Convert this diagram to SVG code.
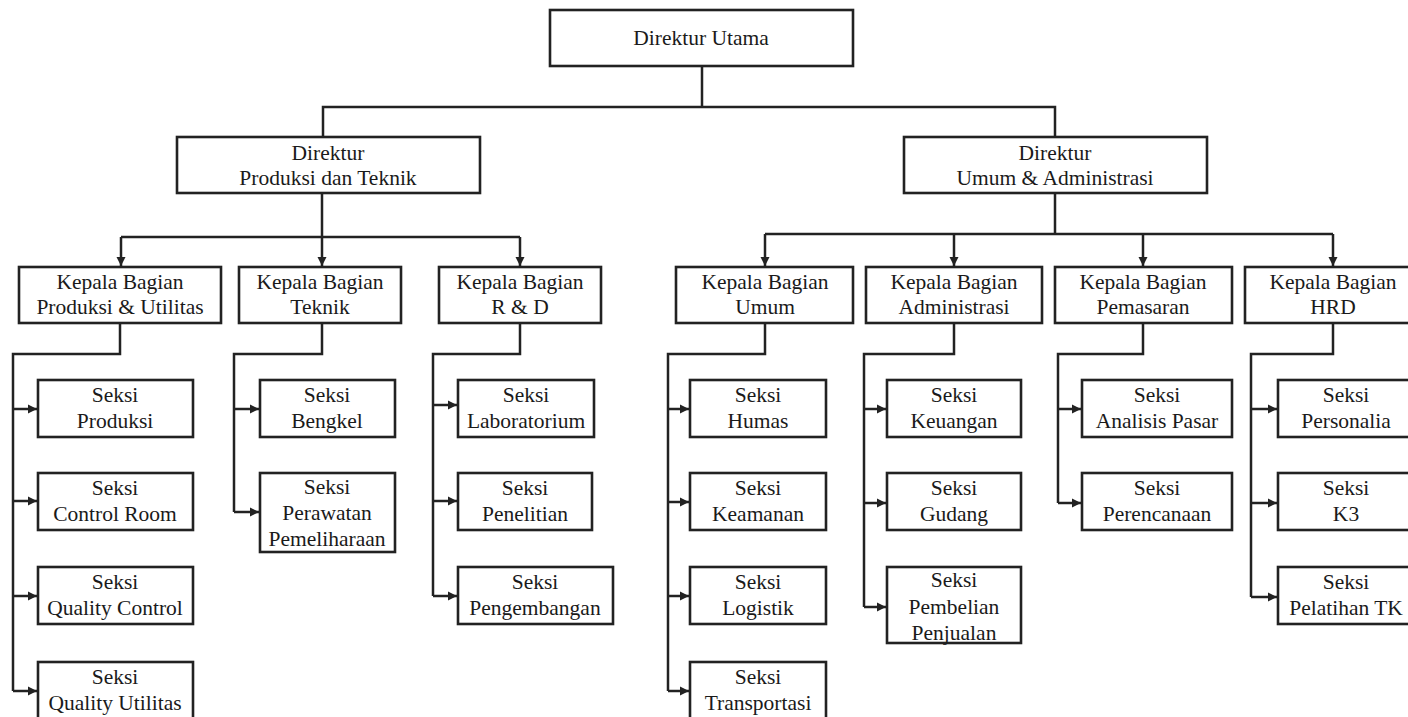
<svg xmlns="http://www.w3.org/2000/svg" width="1408" height="717" viewBox="0 0 1408 717">
<defs>
<style>
.box{fill:#fff;stroke:#222;stroke-width:2.6}
.t{font-family:'Liberation Serif','Times New Roman',serif;font-size:21.5px;fill:#1a1a1a;text-anchor:middle}
.c{fill:none;stroke:#222;stroke-width:2.5}
.a{fill:none;stroke:#222;stroke-width:2.5;marker-end:url(#ah)}
</style>
<marker id="ah" markerUnits="userSpaceOnUse" markerWidth="10" markerHeight="10" refX="9" refY="5" orient="auto">
<path d="M0,0.5 L9,5 L0,9.5 Z" fill="#222"/>
</marker>
</defs>
<rect width="1408" height="717" fill="#fff"/>

<g id="connectors">
<path class="c" d="M702,66 V107 M323,137 V107 H1055 V137"/>
<path class="c" d="M322,193 V237 M121,237 H520"/>
<path class="a" d="M121,237 V266"/>
<path class="a" d="M322,237 V266"/>
<path class="a" d="M520,237 V266"/>
<path class="c" d="M1055,193 V234 M765,234 H1333"/>
<path class="a" d="M765,234 V266"/>
<path class="a" d="M954,234 V266"/>
<path class="a" d="M1143,234 V266"/>
<path class="a" d="M1333,234 V266"/>

<path class="c" d="M120,323 V354 H13 V691"/>
<path class="a" d="M13,409 H37"/>
<path class="a" d="M13,501 H37"/>
<path class="a" d="M13,596 H37"/>
<path class="a" d="M13,691 H37"/>

<path class="c" d="M322,323 V354 H234 V512"/>
<path class="a" d="M234,409 H259"/>
<path class="a" d="M234,512 H259"/>

<path class="c" d="M520,323 V354 H433 V596"/>
<path class="a" d="M433,405 H457"/>
<path class="a" d="M433,501 H457"/>
<path class="a" d="M433,596 H457"/>

<path class="c" d="M765,323 V354 H668 V691"/>
<path class="a" d="M668,409 H689"/>
<path class="a" d="M668,502 H689"/>
<path class="a" d="M668,596 H689"/>
<path class="a" d="M668,691 H689"/>

<path class="c" d="M954,323 V354 H864 V607"/>
<path class="a" d="M864,409 H886"/>
<path class="a" d="M864,503 H886"/>
<path class="a" d="M864,607 H886"/>

<path class="c" d="M1143,323 V354 H1058 V503"/>
<path class="a" d="M1058,409 H1081"/>
<path class="a" d="M1058,503 H1081"/>

<path class="c" d="M1333,323 V354 H1251 V597"/>
<path class="a" d="M1251,409 H1277"/>
<path class="a" d="M1251,503 H1277"/>
<path class="a" d="M1251,597 H1277"/>
</g>

<g id="direktur-utama"><rect class="box" x="550" y="10" width="303" height="56"/><text class="t" x="701" y="45">Direktur Utama</text></g>

<g id="direktur-produksi"><rect class="box" x="177" y="137" width="303" height="56"/><text class="t" x="328" y="160">Direktur</text><text class="t" x="328" y="185">Produksi dan Teknik</text></g>
<g id="direktur-umum"><rect class="box" x="904" y="137" width="303" height="56"/><text class="t" x="1055" y="160">Direktur</text><text class="t" x="1055" y="185">Umum &amp; Administrasi</text></g>

<g id="kb-produksi"><rect class="box" x="19" y="267" width="202" height="56"/><text class="t" x="120" y="289">Kepala Bagian</text><text class="t" x="120" y="314">Produksi &amp; Utilitas</text></g>
<g id="kb-teknik"><rect class="box" x="239" y="267" width="162" height="56"/><text class="t" x="320" y="289">Kepala Bagian</text><text class="t" x="320" y="314">Teknik</text></g>
<g id="kb-rd"><rect class="box" x="439" y="267" width="162" height="56"/><text class="t" x="520" y="289">Kepala Bagian</text><text class="t" x="520" y="314">R &amp; D</text></g>
<g id="kb-umum"><rect class="box" x="676" y="267" width="177" height="56"/><text class="t" x="765" y="289">Kepala Bagian</text><text class="t" x="765" y="314">Umum</text></g>
<g id="kb-administrasi"><rect class="box" x="866" y="267" width="176" height="56"/><text class="t" x="954" y="289">Kepala Bagian</text><text class="t" x="954" y="314">Administrasi</text></g>
<g id="kb-pemasaran"><rect class="box" x="1055" y="267" width="177" height="56"/><text class="t" x="1143" y="289">Kepala Bagian</text><text class="t" x="1143" y="314">Pemasaran</text></g>
<g id="kb-hrd"><rect class="box" x="1245" y="267" width="176" height="56"/><text class="t" x="1333" y="289">Kepala Bagian</text><text class="t" x="1333" y="314">HRD</text></g>

<g id="s-produksi"><rect class="box" x="38" y="380" width="155" height="57"/><text class="t" x="115" y="402">Seksi</text><text class="t" x="115" y="428">Produksi</text></g>
<g id="s-control-room"><rect class="box" x="38" y="473" width="155" height="57"/><text class="t" x="115" y="495">Seksi</text><text class="t" x="115" y="521">Control Room</text></g>
<g id="s-quality-control"><rect class="box" x="38" y="567" width="155" height="57"/><text class="t" x="115" y="589">Seksi</text><text class="t" x="115" y="615">Quality Control</text></g>
<g id="s-quality-utilitas"><rect class="box" x="38" y="662" width="155" height="60"/><text class="t" x="115" y="684">Seksi</text><text class="t" x="115" y="710">Quality Utilitas</text></g>

<g id="s-bengkel"><rect class="box" x="260" y="380" width="135" height="57"/><text class="t" x="327" y="402">Seksi</text><text class="t" x="327" y="428">Bengkel</text></g>
<g id="s-perawatan"><rect class="box" x="260" y="473" width="135" height="79"/><text class="t" x="327" y="494">Seksi</text><text class="t" x="327" y="520">Perawatan</text><text class="t" x="327" y="546">Pemeliharaan</text></g>

<g id="s-laboratorium"><rect class="box" x="458" y="380" width="136" height="57"/><text class="t" x="526" y="402">Seksi</text><text class="t" x="526" y="428">Laboratorium</text></g>
<g id="s-penelitian"><rect class="box" x="458" y="473" width="134" height="57"/><text class="t" x="525" y="495">Seksi</text><text class="t" x="525" y="521">Penelitian</text></g>
<g id="s-pengembangan"><rect class="box" x="458" y="567" width="155" height="57"/><text class="t" x="535" y="589">Seksi</text><text class="t" x="535" y="615">Pengembangan</text></g>

<g id="s-humas"><rect class="box" x="690" y="380" width="136" height="57"/><text class="t" x="758" y="402">Seksi</text><text class="t" x="758" y="428">Humas</text></g>
<g id="s-keamanan"><rect class="box" x="690" y="473" width="136" height="57"/><text class="t" x="758" y="495">Seksi</text><text class="t" x="758" y="521">Keamanan</text></g>
<g id="s-logistik"><rect class="box" x="690" y="567" width="136" height="57"/><text class="t" x="758" y="589">Seksi</text><text class="t" x="758" y="615">Logistik</text></g>
<g id="s-transportasi"><rect class="box" x="690" y="662" width="136" height="60"/><text class="t" x="758" y="684">Seksi</text><text class="t" x="758" y="710">Transportasi</text></g>

<g id="s-keuangan"><rect class="box" x="887" y="380" width="134" height="57"/><text class="t" x="954" y="402">Seksi</text><text class="t" x="954" y="428">Keuangan</text></g>
<g id="s-gudang"><rect class="box" x="887" y="473" width="134" height="57"/><text class="t" x="954" y="495">Seksi</text><text class="t" x="954" y="521">Gudang</text></g>
<g id="s-pembelian"><rect class="box" x="887" y="567" width="134" height="76"/><text class="t" x="954" y="587">Seksi</text><text class="t" x="954" y="614">Pembelian</text><text class="t" x="954" y="640">Penjualan</text></g>

<g id="s-analisis-pasar"><rect class="box" x="1082" y="380" width="150" height="57"/><text class="t" x="1157" y="402">Seksi</text><text class="t" x="1157" y="428">Analisis Pasar</text></g>
<g id="s-perencanaan"><rect class="box" x="1082" y="473" width="150" height="57"/><text class="t" x="1157" y="495">Seksi</text><text class="t" x="1157" y="521">Perencanaan</text></g>

<g id="s-personalia"><rect class="box" x="1278" y="380" width="136" height="57"/><text class="t" x="1346" y="402">Seksi</text><text class="t" x="1346" y="428">Personalia</text></g>
<g id="s-k3"><rect class="box" x="1278" y="473" width="136" height="57"/><text class="t" x="1346" y="495">Seksi</text><text class="t" x="1346" y="521">K3</text></g>
<g id="s-pelatihan"><rect class="box" x="1278" y="567" width="136" height="57"/><text class="t" x="1346" y="589">Seksi</text><text class="t" x="1346" y="615">Pelatihan TK</text></g>
</svg>
